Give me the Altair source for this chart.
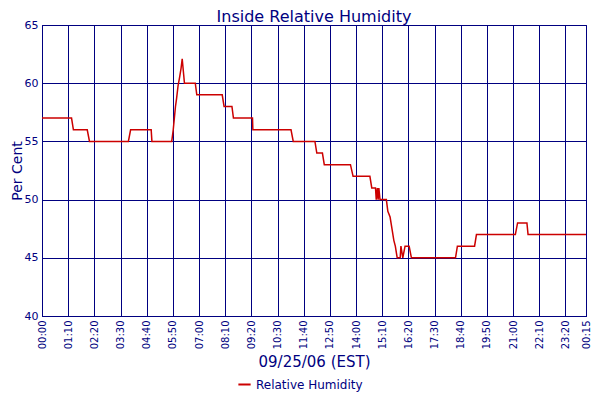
import altair as alt
import pandas as pd

# minutes after 00:00 on 09/25/06
minutes = [0, 79, 84, 121, 127, 231, 237, 292, 294, 347, 351, 354, 357, 360, 364,
           368, 372, 375, 379, 381, 410, 414, 482, 487, 508, 512, 563, 564, 666,
           672, 730, 735, 750, 755, 825, 832, 877, 882, 892, 894, 897, 899, 901,
           904, 921, 925, 931, 936, 941, 945, 950, 958, 960, 965, 971, 982, 988,
           1106, 1111, 1157, 1162, 1266, 1272, 1297, 1300, 1455]
humidity = [57, 57, 56, 56, 55, 55, 56, 56, 55, 55, 56, 57, 58, 58.7, 59.8,
            60.5, 61.3, 62.1, 60.7, 60, 60, 59, 59, 58, 58, 57, 57, 56, 56,
            55, 55, 54, 54, 53, 53, 52, 52, 51, 51, 50, 51, 50, 51,
            50, 50, 49, 48.5, 47.5, 46.5, 46, 45, 45, 46, 45, 46, 46, 45,
            45, 46, 46, 47, 47, 48, 48, 47, 47]
x_ticks = [0, 70, 140, 210, 280, 350, 420, 490, 560, 630, 700, 770, 840, 910,
           980, 1050, 1120, 1190, 1260, 1330, 1400, 1455]
y_ticks = [40, 45, 50, 55, 60, 65]
series_name = "Relative Humidity"

df = pd.DataFrame({"t": minutes, "rh": humidity, "series": series_name})

NAVY = "#000080"
FONT = "DejaVu Sans"

chart = alt.Chart(df).mark_line(strokeWidth=1.5, interpolate="linear").encode(
    x=alt.X("t:Q",
            scale=alt.Scale(domain=[0, 1455], nice=False, zero=False),
            axis=alt.Axis(values=x_ticks, title="09/25/06 (EST)",
                          labelExpr="timeFormat(datetime(2006, 8, 25, 0, datum.value), '%H:%M')",
                          labelAngle=-90, labelFontSize=10, labelPadding=4,
                          ticks=False, titleFontSize=15, titlePadding=6,
                          labelOverlap=False)),
    y=alt.Y("rh:Q",
            scale=alt.Scale(domain=[40, 65], nice=False, zero=False),
            axis=alt.Axis(values=y_ticks, title="Per Cent", labelFontSize=11,
                          ticks=False, labelPadding=4, titleFontSize=14,
                          titlePadding=0)),
    color=alt.Color("series:N",
                    scale=alt.Scale(range=["#cc0000"]),
                    legend=alt.Legend(title=None, orient="none", legendX=195,
                                      legendY=352, symbolType="stroke",
                                      symbolStrokeWidth=2, symbolSize=150,
                                      labelFontSize=12, labelColor=NAVY,
                                      labelFont=FONT)),
).properties(
    width=544,
    height=291,
    autosize=alt.AutoSizeParams(type="none"),
    padding={"left": 34, "top": 17, "right": 6, "bottom": 76},
    title=alt.TitleParams("Inside Relative Humidity", fontSize=16, color=NAVY,
                          font=FONT, fontWeight="normal", anchor="middle",
                          offset=-6),
).configure_axis(
    grid=True, gridColor=NAVY, gridOpacity=1, gridWidth=1,
    domainColor=NAVY, labelColor=NAVY, titleColor=NAVY,
    labelFont=FONT, titleFont=FONT, titleFontWeight="normal",
).configure_view(
    stroke=NAVY, strokeWidth=1,
)

chart.save("out.html", embed_options={"renderer": "svg", "actions": False})
